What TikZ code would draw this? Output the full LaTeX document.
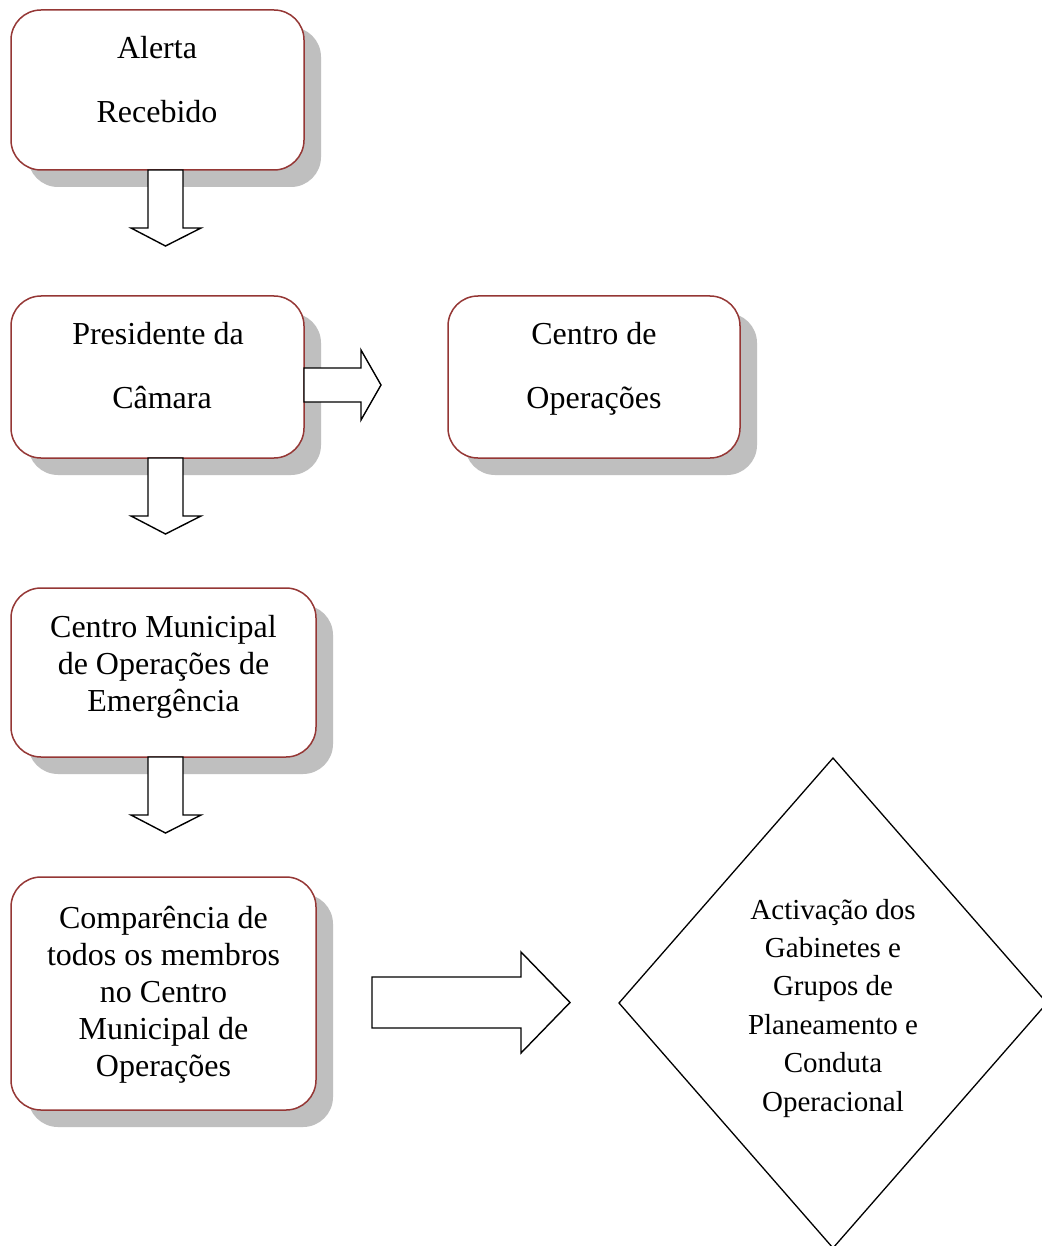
\documentclass[tikz,border=0pt]{standalone}
\usepackage{fontspec}
\setmainfont{Liberation Serif}
\usetikzlibrary{shapes.geometric,shadows,calc}
\definecolor{boxred}{RGB}{149,55,53}
\definecolor{shadowgray}{RGB}{191,191,191}
\newcommand{\lstrut}{\rule[-8pt]{0pt}{32pt}}
\begin{document}
\begin{tikzpicture}[x=1pt,y=-1pt,
  box/.style={draw=boxred, line width=1.5pt, fill=white, rounded corners=30pt,
    inner sep=0pt, outer sep=0pt,
    drop shadow={shadow xshift=17pt, shadow yshift=-17pt, fill=shadowgray, opacity=1}},
  txt/.style={align=center, inner sep=0pt},
  bigtxt/.style={txt, font=\fontsize{32}{64}\selectfont},
  midtxt/.style={txt, font=\fontsize{32}{37}\selectfont},
  dtxt/.style={txt, font=\fontsize{29}{38.4}\selectfont},
  blockarrow/.style={draw=black, line width=1.4pt, fill=white, line join=miter}]
\useasboundingbox (0,0) rectangle (1041,1246);
\fill[white] (0,0) rectangle (1041,1246);

% boxes
\node[box, minimum width=293pt, minimum height=160pt] (b1) at (157.5,90) {};
\node[box, minimum width=293pt, minimum height=162pt] (b2) at (157.5,377) {};
\node[box, minimum width=292pt, minimum height=162pt] (b3) at (594,377) {};
\node[box, minimum width=305pt, minimum height=169pt] (b4) at (163.5,672.5) {};
\node[box, minimum width=305pt, minimum height=233pt] (b5) at (163.5,993.5) {};
\node[draw=black, line width=1.3pt, shape=diamond, inner sep=0pt, outer sep=0pt,
      minimum width=428pt, minimum height=490pt] (d) at (833,1003) {};

% texts
\node[bigtxt] (t1) at (157,83) {\lstrut Alerta\\\lstrut Recebido};
\node[bigtxt] (t2) at (158,368.5) {\lstrut Presidente da\\\lstrut\hspace*{8pt}Câmara};
\node[bigtxt] (t3) at (594,368.5) {\lstrut Centro de\\\lstrut Operações};
\node[midtxt] (t4) at (163.5,666.5) {\lstrut Centro Municipal\\\lstrut de Operações de\\\lstrut Emergência};
\node[midtxt] (t5) at (163.5,994) {\lstrut Comparência de\\\lstrut todos os membros\\\lstrut no Centro\\\lstrut Municipal de\\\lstrut Operações};
\node[dtxt] (t6) at (833,1007) {\lstrut Activação dos\\\lstrut Gabinetes e\\\lstrut Grupos de\\\lstrut Planeamento e\\\lstrut Conduta\\\lstrut Operacional};

% block arrows
\begin{scope}[shift={($(b1.south)+(8,0)$)}]
\draw[blockarrow] (-17.5,0) -- (-17.5,58) -- (-34.5,58) -- (0,76) -- (35.5,58) -- (17.5,58) -- (17.5,0) -- cycle;
\end{scope}
\begin{scope}[shift={($(b2.south)+(8,0)$)}]
\draw[blockarrow] (-17.5,0) -- (-17.5,58) -- (-34.5,58) -- (0,76) -- (35.5,58) -- (17.5,58) -- (17.5,0) -- cycle;
\end{scope}
\begin{scope}[shift={($(b4.south)+(2,0)$)}]
\draw[blockarrow] (-17.5,0) -- (-17.5,58) -- (-34.5,58) -- (0,76) -- (35.5,58) -- (17.5,58) -- (17.5,0) -- cycle;
\end{scope}
\begin{scope}[shift={($(b2.east)+(0,8)$)}]
\draw[blockarrow] (0,-17) -- (57,-17) -- (57,-35) -- (77,0) -- (57,35) -- (57,17) -- (0,17) -- cycle;
\end{scope}
\begin{scope}[shift={($(b5.east)!0.5!(d.west)+(3.5,4.25)$)}]
\draw[blockarrow] (-99,-25.5) -- (50,-25.5) -- (50,-50.5) -- (99,0) -- (50,50.5) -- (50,25.5) -- (-99,25.5) -- cycle;
\end{scope}
\end{tikzpicture}
\end{document}
